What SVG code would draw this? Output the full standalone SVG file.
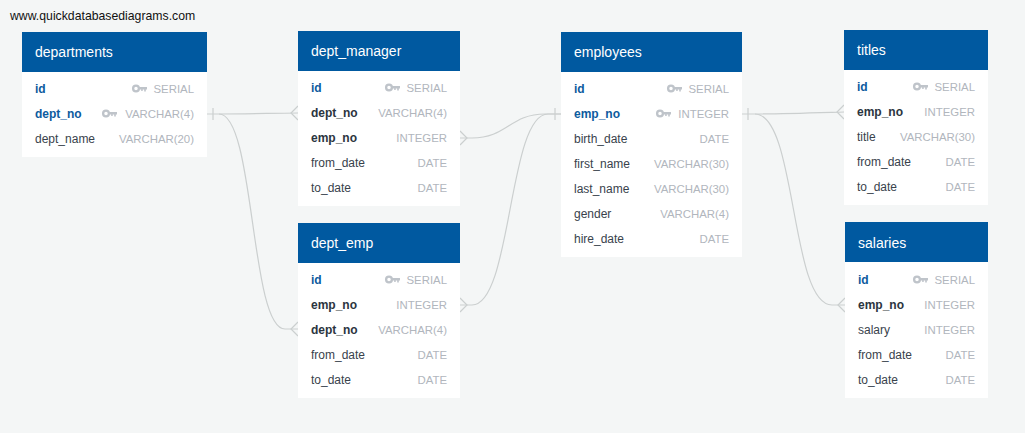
<svg xmlns="http://www.w3.org/2000/svg" xmlns:xlink="http://www.w3.org/1999/xlink" width="1025" height="433" viewBox="0 0 1025 433">
<style>
text{font-family:"Liberation Sans",Arial,sans-serif;font-size:12px}
.bg{fill:#f4f6f6}
.card{fill:#ffffff}
.head{fill:#0059a0}
.title{fill:#ffffff;font-size:14px}
.f{fill:#39424c}
.b{fill:#2b3540;font-weight:bold}
.k{fill:#0d5b9e;font-weight:bold}
.t{fill:#b1b6bd;text-anchor:end;font-size:11.4px}
.c{fill:none;stroke:#cbcfcf;stroke-width:1.2}
.url{fill:#111111;font-size:12.25px}
</style>
<defs>
<g id="key"><circle cx="4" cy="4" r="2.9" fill="none" stroke="#bfc4ca" stroke-width="2.3"/><path d="M6.5 2.5H15V5H13.8V7H12.2V5H10.7V6.6H9.2V5H6.5Z" fill="#bfc4ca"/></g>
</defs>
<rect class="bg" width="1025" height="433"/>
<text class="url" x="10" y="20">www.quickdatabasediagrams.com</text>
<g id="connectors">
<path class="c" d="M207 114H219C245 114 270 113.300 298 113"/>
<path class="c" d="M219 114C255 114 250 329 285 329H298"/>
<path class="c" d="M460 138H472C507 138 510 114 545 114H561"/>
<path class="c" d="M460 305H472C512 305 508 114 548 114H561"/>
<path class="c" d="M742 114H755C780 114 810 113 844 112"/>
<path class="c" d="M755 114C797 114 790 305 832 305H845"/>
<path class="c" d="M213 108V120M555 108V120M748 108V120"/>
<path class="c" d="M298 106L291 113L298 120M460 131L467 138L460 145M298 322L291 329L298 336M460 298L467 305L460 312M844 105L837 112L844 119M845 298L838 305L845 312"/>
</g>
<g id="departments">
<rect class="card" x="22" y="32" width="185" height="125"/><rect class="head" x="22" y="32" width="185" height="40"/>
<text class="title" x="35" y="57">departments</text>
<text class="k" x="35" y="93">id</text><use href="#key" x="132" y="84.500"/><text class="t" x="194" y="93">SERIAL</text>
<text class="k" x="35" y="118">dept_no</text><use href="#key" x="102" y="109.500"/><text class="t" x="194" y="118">VARCHAR(4)</text>
<text class="f" x="35" y="143">dept_name</text><text class="t" x="194" y="143">VARCHAR(20)</text>
</g>
<g id="dept_manager">
<rect class="card" x="298" y="31" width="162" height="175"/><rect class="head" x="298" y="31" width="162" height="40"/>
<text class="title" x="311" y="56">dept_manager</text>
<text class="k" x="311" y="92">id</text><use href="#key" x="385" y="83.500"/><text class="t" x="447" y="92">SERIAL</text>
<text class="b" x="311" y="117">dept_no</text><text class="t" x="447" y="117">VARCHAR(4)</text>
<text class="b" x="311" y="142">emp_no</text><text class="t" x="447" y="142">INTEGER</text>
<text class="f" x="311" y="167">from_date</text><text class="t" x="447" y="167">DATE</text>
<text class="f" x="311" y="192">to_date</text><text class="t" x="447" y="192">DATE</text>
</g>
<g id="dept_emp">
<rect class="card" x="298" y="223" width="162" height="175"/><rect class="head" x="298" y="223" width="162" height="40"/>
<text class="title" x="311" y="248">dept_emp</text>
<text class="k" x="311" y="284">id</text><use href="#key" x="385" y="275.500"/><text class="t" x="447" y="284">SERIAL</text>
<text class="b" x="311" y="309">emp_no</text><text class="t" x="447" y="309">INTEGER</text>
<text class="b" x="311" y="334">dept_no</text><text class="t" x="447" y="334">VARCHAR(4)</text>
<text class="f" x="311" y="359">from_date</text><text class="t" x="447" y="359">DATE</text>
<text class="f" x="311" y="384">to_date</text><text class="t" x="447" y="384">DATE</text>
</g>
<g id="employees">
<rect class="card" x="561" y="32" width="181" height="225"/><rect class="head" x="561" y="32" width="181" height="40"/>
<text class="title" x="574" y="57">employees</text>
<text class="k" x="574" y="93">id</text><use href="#key" x="667" y="84.500"/><text class="t" x="729" y="93">SERIAL</text>
<text class="k" x="574" y="118">emp_no</text><use href="#key" x="656" y="109.500"/><text class="t" x="729" y="118">INTEGER</text>
<text class="f" x="574" y="143">birth_date</text><text class="t" x="729" y="143">DATE</text>
<text class="f" x="574" y="168">first_name</text><text class="t" x="729" y="168">VARCHAR(30)</text>
<text class="f" x="574" y="193">last_name</text><text class="t" x="729" y="193">VARCHAR(30)</text>
<text class="f" x="574" y="218">gender</text><text class="t" x="729" y="218">VARCHAR(4)</text>
<text class="f" x="574" y="243">hire_date</text><text class="t" x="729" y="243">DATE</text>
</g>
<g id="titles">
<rect class="card" x="844" y="30" width="144" height="175"/><rect class="head" x="844" y="30" width="144" height="40"/>
<text class="title" x="857" y="55">titles</text>
<text class="k" x="857" y="91">id</text><use href="#key" x="913" y="82.500"/><text class="t" x="975" y="91">SERIAL</text>
<text class="b" x="857" y="116">emp_no</text><text class="t" x="975" y="116">INTEGER</text>
<text class="f" x="857" y="141">title</text><text class="t" x="975" y="141">VARCHAR(30)</text>
<text class="f" x="857" y="166">from_date</text><text class="t" x="975" y="166">DATE</text>
<text class="f" x="857" y="191">to_date</text><text class="t" x="975" y="191">DATE</text>
</g>
<g id="salaries">
<rect class="card" x="845" y="222" width="143" height="176"/><rect class="head" x="845" y="222" width="143" height="40"/>
<text class="title" x="858" y="248">salaries</text>
<text class="k" x="858" y="284">id</text><use href="#key" x="913" y="275.500"/><text class="t" x="975" y="284">SERIAL</text>
<text class="b" x="858" y="309">emp_no</text><text class="t" x="975" y="309">INTEGER</text>
<text class="f" x="858" y="334">salary</text><text class="t" x="975" y="334">INTEGER</text>
<text class="f" x="858" y="359">from_date</text><text class="t" x="975" y="359">DATE</text>
<text class="f" x="858" y="384">to_date</text><text class="t" x="975" y="384">DATE</text>
</g>
</svg>
